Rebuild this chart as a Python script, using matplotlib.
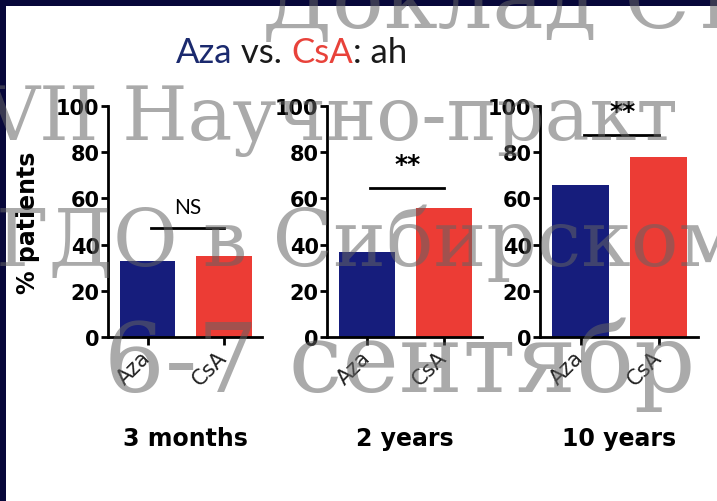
import matplotlib.pyplot as plt
from matplotlib.patches import Rectangle

# values
groups = ['3 months', '2 years', '10 years']
drugs = ['Aza', 'CsA']
aza = [33, 37, 66]
csa = [35, 56, 78]
sig_labels = ['NS', '**', '**']
sig_y = [47, 64.5, 87.5]
yticks = [0, 20, 40, 60, 80, 100]

navy = '#161d7c'
red = '#ec3c35'
frame = '#07073a'

W, H = 717, 502
fig = plt.figure(figsize=(W / 100, H / 100), dpi=100, facecolor=frame)
fig.patches.append(Rectangle((6 / W, 0), 1, 1 - 7 / H, transform=fig.transFigure,
                             facecolor='white', edgecolor='none', zorder=-5))

# axes boxes in pixels: left, right
boxes = [(108, 262), (327, 482), (540, 698)]
top_px, bot_px = 107, 338

for i, (x0, x1) in enumerate(boxes):
    ax = fig.add_axes([x0 / W, 1 - bot_px / H, (x1 - x0) / W, (bot_px - top_px) / H])
    ax.patch.set_visible(False)
    ax.bar([0, 1], [aza[i], csa[i]], width=0.73, color=[navy, red])
    ax.set_xlim(-0.52, 1.5)
    ax.set_ylim(0, 100)
    for s in ['top', 'right']:
        ax.spines[s].set_visible(False)
    for s in ['left', 'bottom']:
        ax.spines[s].set_linewidth(2)
    ax.set_yticks(yticks)
    ax.tick_params(axis='y', length=5, width=2, labelsize=15, pad=1)
    for lab in ax.get_yticklabels():
        lab.set_fontweight('bold')
    ax.set_xticks([0, 1])
    ax.set_xticklabels(drugs, rotation=45, ha='right', va='center',
                       rotation_mode='anchor', fontsize=15, color='#222222')
    ax.tick_params(axis='x', length=6, width=2, pad=6)
    ax.set_xlabel(groups[i], fontsize=17, fontweight='bold')
    ax.xaxis.set_label_coords(0.5, -0.385)

    ax.plot([0.04, 1.0], [sig_y[i], sig_y[i]], color='black', lw=2, clip_on=False)
    if sig_labels[i] == 'NS':
        ax.text(0.52, sig_y[i] + 6.5, sig_labels[i], ha='center', va='baseline',
                fontsize=15, family='Lato', clip_on=False)
    else:
        ax.text(0.53, sig_y[i] + 7.5, sig_labels[i], ha='center', va='baseline',
                fontsize=18, fontweight='bold', clip_on=False)

    if i == 0:
        ax.set_ylabel('% patients', fontsize=17, fontweight='bold')
        ax.yaxis.set_label_coords(-0.44, 0.5)

# title in three colours, pieces placed one after another
pieces = [('Aza', '#1b2a6e'), (' vs. ', '#1a1a1a'), ('CsA', '#e8423a'), (': ah', '#1a1a1a')]
fig.canvas.draw()
r = fig.canvas.get_renderer()
x = 176
for txt, col in pieces:
    t = fig.text(x / W, 1 - 63 / H, txt, color=col, fontsize=25, family='Lato',
                 ha='left', va='baseline')
    x += t.get_window_extent(r).width

# watermark of the conference
wm = [('Доклад Ст', 262, 28, 62),
      ('VII Научно-практ', -14, 140, 54),
      ('ГДО в Сибирском', -4, 266, 57),
      ('6-7 сентябр', 104, 392, 69)]
for txt, px, py, size in wm:
    fig.text(px / W, 1 - py / H, txt, family='DejaVu Serif', fontsize=size,
             color='#646464', alpha=0.55, ha='left', va='baseline', zorder=10)

fig.savefig('out.png', dpi=100, facecolor=frame)
